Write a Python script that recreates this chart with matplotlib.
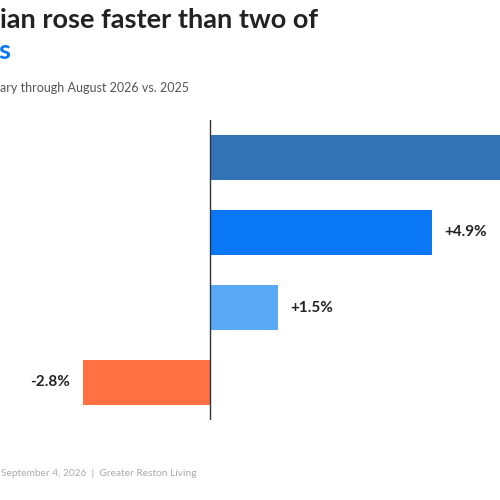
import matplotlib
matplotlib.use("Agg")
import matplotlib.pyplot as plt

plt.rcParams['font.family'] = ['Lato', 'DejaVu Sans']

values = [8.0, 4.9, 1.5, -2.8]
labels = ["", "+4.9%", "+1.5%", "-2.8%"]
colors = ["#3273b6", "#0a78f5", "#5aa9f7", "#ff7043"]

fig = plt.figure(figsize=(5, 5), dpi=100)
ax = fig.add_axes([0, 80/500, 1, 300/500])
ax.set_xlim(-210/45.3, 290/45.3)
ax.set_ylim(3.5, -0.5)
ypos = list(range(len(values)))
ax.barh(ypos, values, height=0.6, color=colors)
ax.axvline(0, color="#333333", lw=1)
for y, v, l in zip(ypos, values, labels):
    if not l:
        continue
    if v >= 0:
        ax.text(v + 0.28, y, l, va="center", ha="left", fontsize=11, fontweight="bold", color="#222222")
    else:
        ax.text(v - 0.3, y, l, va="center", ha="right", fontsize=11, fontweight="bold", color="#222222")
ax.axis("off")

fig.text(0.0, 1 - 20/500, "ian rose faster than two of", fontsize=19.5, fontweight="bold", color="#222222", va="center", ha="left")
fig.text(-0.004, 1 - 51/500, "s", fontsize=19.5, fontweight="bold", color="#0a78f5", va="center", ha="left")
fig.text(0.0, 1 - 88/500, "ary through August 2026 vs. 2025", fontsize=9, color="#555555", va="center", ha="left")
fig.text(0.002, 1 - 474/500, "September 4, 2026  |  Greater Reston Living", fontsize=7.3, color="#aaaaaa", va="center", ha="left")

fig.savefig("out.png", dpi=100)
